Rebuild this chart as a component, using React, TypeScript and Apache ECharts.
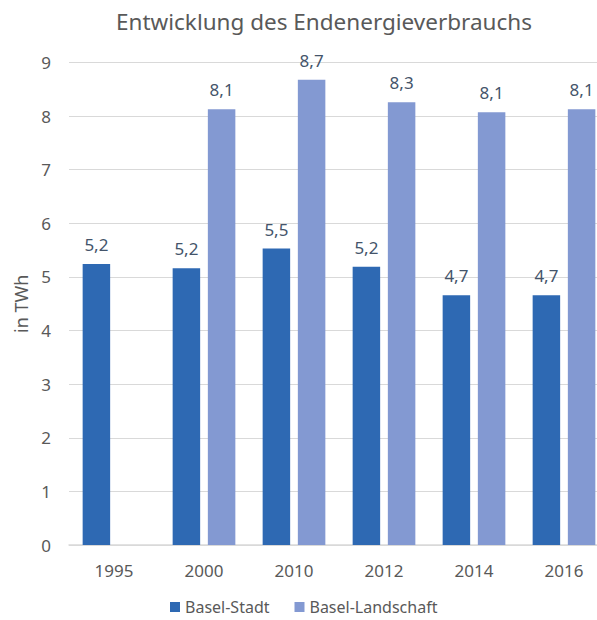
import React, { useEffect, useRef } from "react";
import * as echarts from "echarts";

const categories = ["1995", "2000", "2010", "2012", "2014", "2016"];
const baselStadt = [5.24, 5.16, 5.53, 5.19, 4.66, 4.66];
const baselLandschaft: (number | null)[] = [null, 8.13, 8.68, 8.26, 8.07, 8.13];
const seriesNames = ["Basel-Stadt", "Basel-Landschaft"];
const titleText = "Entwicklung des Endenergieverbrauchs";
const yAxisName = "in TWh";

const FONT = "'Noto Sans', sans-serif";

export default function App() {
  const ref = useRef<HTMLDivElement>(null);
  useEffect(() => {
    if (!ref.current) return;
    const chart = echarts.init(ref.current, undefined, { renderer: "svg" });
    const labelFmt = (p: any) =>
      p.value == null ? "" : Number(p.value).toFixed(1).replace(".", ",");
    chart.setOption({
      animation: false,
      backgroundColor: "#ffffff",
      title: {
        text: titleText,
        left: 324,
        top: 10,
        textAlign: "center",
        padding: 0,
        textStyle: {
          fontFamily: FONT,
          fontSize: 22.5,
          fontWeight: "normal",
          color: "#595959",
        },
      },
      legend: {
        data: seriesNames,
        left: 170,
        top: 599,
        padding: 0,
        itemWidth: 10,
        itemHeight: 10,
        itemGap: 25,
        icon: "rect",
        textStyle: { fontFamily: FONT, fontSize: 16, color: "#595959" },
      },
      grid: {
        left: 69,
        width: 540,
        top: 62.5,
        bottom: 75,
        containLabel: false,
        outerBoundsMode: "none",
      },
      xAxis: {
        type: "category",
        data: categories,
        axisLine: { lineStyle: { color: "#D9D9D9", width: 1.5 } },
        axisTick: { show: false },
        axisLabel: {
          fontFamily: FONT,
          fontSize: 17,
          color: "#595959",
          margin: 17,
        },
      },
      yAxis: {
        type: "value",
        min: 0,
        max: 9,
        interval: 1,
        name: yAxisName,
        nameLocation: "middle",
        nameGap: 38,
        nameTextStyle: { fontFamily: FONT, fontSize: 18, color: "#595959" },
        axisLine: { show: false },
        axisTick: { show: false },
        splitLine: { lineStyle: { color: "#D9D9D9", width: 1 } },
        axisLabel: {
          fontFamily: FONT,
          fontSize: 17,
          color: "#595959",
          margin: 18,
        },
      },
      series: [
        {
          name: seriesNames[0],
          type: "bar",
          data: baselStadt,
          barWidth: 27.5,
          barGap: "28%",
          itemStyle: { color: "#2E69B3" },
          label: {
            show: true,
            position: "top",
            distance: 11,
            formatter: labelFmt,
            fontFamily: FONT,
            fontSize: 17,
            color: "#44546A",
          },
        },
        {
          name: seriesNames[1],
          type: "bar",
          data: baselLandschaft,
          barWidth: 27.5,
          barGap: "28%",
          itemStyle: { color: "#8399D2" },
          label: {
            show: true,
            position: "top",
            distance: 11,
            formatter: labelFmt,
            fontFamily: FONT,
            fontSize: 17,
            color: "#44546A",
          },
        },
      ],
    });
    return () => chart.dispose();
  }, []);
  return <div ref={ref} style={{ width: 597, height: 620, position: "absolute", left: 0, top: 0 }} />;
}
